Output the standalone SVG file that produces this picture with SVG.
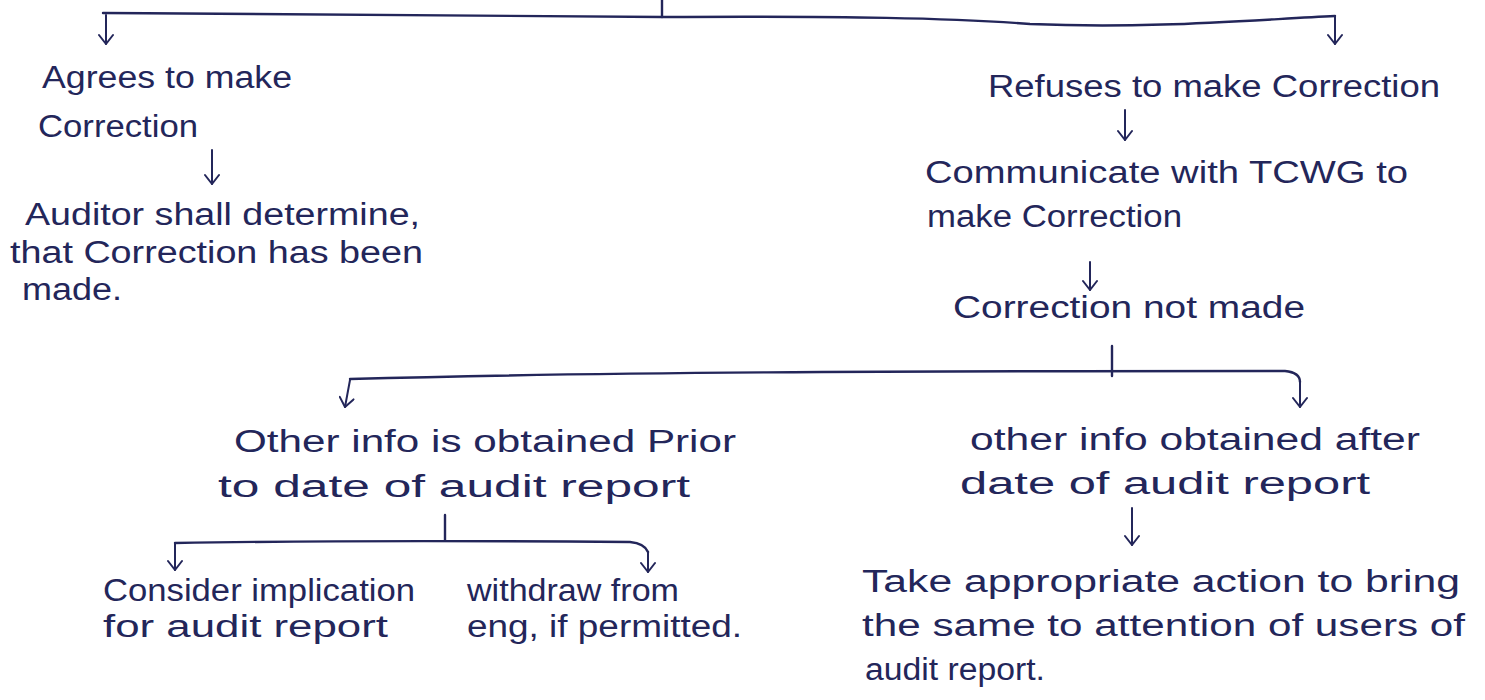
<svg xmlns="http://www.w3.org/2000/svg" width="1485" height="700" viewBox="0 0 1485 700">
<defs>
<marker id="v" markerWidth="16" markerHeight="16" refX="14" refY="8" orient="auto" markerUnits="userSpaceOnUse" viewBox="0 0 16 16">
<polyline points="5,1 14,8 5,15" fill="none" stroke="#23265a" stroke-width="2" stroke-linecap="round" stroke-linejoin="round"/>
</marker>
<style>
.ink{font-family:"Liberation Sans","DejaVu Sans",sans-serif;font-size:31px;fill:#23265a;}
.ln{fill:none;stroke:#23265a;stroke-width:2.4;stroke-linecap:round;stroke-linejoin:round;}
.ar{fill:none;stroke:#23265a;stroke-width:2;stroke-linecap:round;marker-end:url(#v);}
</style>
</defs>
<rect width="1485" height="700" fill="#ffffff"/>
<g id="connectors">
<path class="ln" d="M662,0 L662,17"/>
<path class="ln" d="M103,13 C300,14 500,15 662,17 C850,16 950,18 1030,24 C1150,29 1250,20 1335,16"/>
<path class="ar" d="M106,15 L106,44"/>
<path class="ar" d="M1335,16 L1335,44"/>
<path class="ar" d="M212,150 L212,184"/>
<path class="ar" d="M1125,110 L1125,140"/>
<path class="ar" d="M1090,262 L1090,290"/>
<path class="ln" d="M1112,346 L1112,376"/>
<path class="ln" d="M350,379 C600,372 900,371 1285,371 C1295,372 1300,376 1300,382"/>
<path class="ar" d="M350,380 L345,407"/>
<path class="ar" d="M1300,382 L1300,407"/>
<path class="ln" d="M445,515 L445,540"/>
<path class="ln" d="M175,543 C350,540 500,541 630,542 C640,543 646,547 648,552"/>
<path class="ar" d="M175,544 L175,570"/>
<path class="ar" d="M648,552 L648,572"/>
<path class="ar" d="M1132,508 L1132,545"/>
</g>
<g id="n-agrees">
<text class="ink" x="42" y="88" textLength="250" lengthAdjust="spacingAndGlyphs">Agrees to make</text>
<text class="ink" x="38" y="137" textLength="160" lengthAdjust="spacingAndGlyphs">Correction</text>
</g>
<g id="n-auditor">
<text class="ink" x="25" y="225" textLength="395" lengthAdjust="spacingAndGlyphs">Auditor shall determine,</text>
<text class="ink" x="10" y="263" textLength="413" lengthAdjust="spacingAndGlyphs">that Correction has been</text>
<text class="ink" x="22" y="300" textLength="100" lengthAdjust="spacingAndGlyphs">made.</text>
</g>
<g id="n-refuses">
<text class="ink" x="988" y="97" textLength="452" lengthAdjust="spacingAndGlyphs">Refuses to make Correction</text>
</g>
<g id="n-communicate">
<text class="ink" x="925" y="183" textLength="483" lengthAdjust="spacingAndGlyphs">Communicate with TCWG to</text>
<text class="ink" x="927" y="227" textLength="255" lengthAdjust="spacingAndGlyphs">make Correction</text>
</g>
<g id="n-notmade">
<text class="ink" x="953" y="318" textLength="352" lengthAdjust="spacingAndGlyphs">Correction not made</text>
</g>
<g id="n-prior">
<text class="ink" x="234" y="452" textLength="502" lengthAdjust="spacingAndGlyphs">Other info is obtained Prior</text>
<text class="ink" x="218" y="497" textLength="472" lengthAdjust="spacingAndGlyphs">to date of audit report</text>
</g>
<g id="n-consider">
<text class="ink" x="103" y="601" textLength="312" lengthAdjust="spacingAndGlyphs">Consider implication</text>
<text class="ink" x="103" y="637" textLength="285" lengthAdjust="spacingAndGlyphs">for audit report</text>
</g>
<g id="n-withdraw">
<text class="ink" x="467" y="601" textLength="212" lengthAdjust="spacingAndGlyphs">withdraw from</text>
<text class="ink" x="467" y="637" textLength="275" lengthAdjust="spacingAndGlyphs">eng, if permitted.</text>
</g>
<g id="n-after">
<text class="ink" x="970" y="450" textLength="450" lengthAdjust="spacingAndGlyphs">other info obtained after</text>
<text class="ink" x="960" y="494" textLength="410" lengthAdjust="spacingAndGlyphs">date of audit report</text>
</g>
<g id="n-action">
<text class="ink" x="862" y="592" textLength="598" lengthAdjust="spacingAndGlyphs">Take appropriate action to bring</text>
<text class="ink" x="862" y="636" textLength="603" lengthAdjust="spacingAndGlyphs">the same to attention of users of</text>
<text class="ink" x="865" y="680" textLength="180" lengthAdjust="spacingAndGlyphs">audit report.</text>
</g>
</svg>
